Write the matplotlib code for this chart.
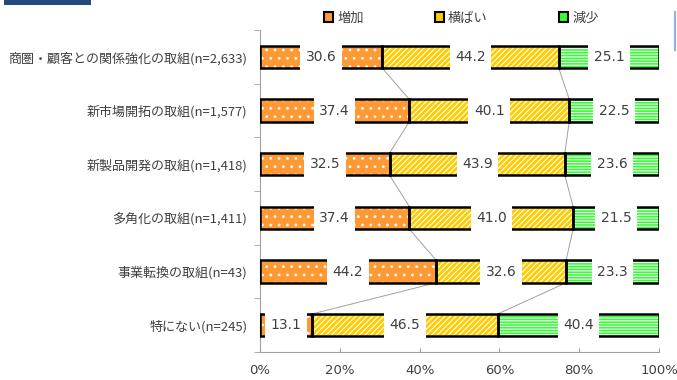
import matplotlib
matplotlib.use("Agg")
import matplotlib.pyplot as plt
from matplotlib.patches import Rectangle, Patch
from matplotlib.lines import Line2D
import numpy as np

plt.rcParams['font.family'] = ['Noto Sans CJK JP', 'DejaVu Sans']

categories = ["商圏・顧客との関係強化の取組(n=2,633)", "新市場開拓の取組(n=1,577)",
              "新製品開発の取組(n=1,418)", "多角化の取組(n=1,411)",
              "事業転換の取組(n=43)", "特にない(n=245)"]
series_names = ["増加", "横ばい", "減少"]
increase = [30.6, 37.4, 32.5, 37.4, 44.2, 13.1]
flat = [44.2, 40.1, 43.9, 41.0, 32.6, 46.5]
decrease = [25.1, 22.5, 23.6, 21.5, 23.3, 40.4]
xtick_labels = ["0%", "20%", "40%", "60%", "80%", "100%"]

colors = ["#FF9933", "#FFCC00", "#33FF33"]
hatches = ["..", "//////", "------"]

raw = np.array([increase, flat, decrease], dtype=float)
shares = raw / raw.sum(axis=0) * 100

fig = plt.figure(figsize=(6.77, 3.80), dpi=100)
ax = fig.add_axes([260/677, 1-352/380, 399/677, 322/380])

n = len(categories)
y = np.arange(n)
h = 0.42
textc = "#404040"

# series lines
cums = np.cumsum(shares, axis=0)
for k in range(3):
    for i in range(n - 1):
        ax.plot([cums[k, i], cums[k, i + 1]],
                [y[i] + h/2, y[i+1] - h/2], color="#A0A0A0", lw=0.7, zorder=1)

left = np.zeros(n)
plt.rcParams['hatch.linewidth'] = 0.8
for k in range(3):
    ax.barh(y, shares[k], left=left, height=h, color=colors[k], hatch=hatches[k],
            edgecolor="white", linewidth=0, zorder=2)
    ax.barh(y, shares[k], left=left, height=h, fill=False,
            edgecolor="black", linewidth=1.8, zorder=3)
    left += shares[k]

# label boxes
left = np.zeros(n)
bw = 10.4
for k in range(3):
    for i in range(n):
        cx = left[i] + shares[k, i] / 2
        ax.add_patch(Rectangle((cx - bw/2, y[i] - h/2 - 0.06), bw, h + 0.12,
                               facecolor="white", edgecolor="none", zorder=4))
        ax.text(cx, y[i], f"{raw[k, i]:.1f}", ha="center", va="center",
                fontsize=10, color=textc, zorder=5, family="DejaVu Sans")
    left += shares[k]

ax.set_xlim(0, 100)
ax.set_ylim(n - 0.5, -0.5)
ax.set_xticks(np.linspace(0, 100, 6))
ax.set_xticklabels(xtick_labels, fontsize=9.5, color=textc, family="DejaVu Sans")
ax.tick_params(axis="x", direction="in", length=3, color="#A0A0A0", pad=9)
ax.set_yticks(y)
ax.set_yticklabels(categories, fontsize=9.4, color=textc)
ax.tick_params(axis="y", which="major", length=0, pad=9)
ax.set_yticks(np.arange(-0.5, n, 1), minor=True)
ax.tick_params(axis="y", which="minor", direction="out", length=4, color="#A0A0A0")
for s in ["top", "right"]:
    ax.spines[s].set_visible(False)
for s in ["left", "bottom"]:
    ax.spines[s].set_color("#A0A0A0")
    ax.spines[s].set_linewidth(0.8)

handles = [Patch(facecolor=c, edgecolor="black", linewidth=1.5) for c in colors]
fig.legend(handles, series_names, loc="center left", bbox_to_anchor=(312/677, 1-18/380),
           ncol=3, frameon=False, fontsize=9.5, handlelength=0.7, handleheight=0.7,
           handletextpad=0.3, columnspacing=5.4, labelcolor=textc)

# decorations
fig.add_artist(Rectangle((4/677, 1-5/380), 87/677, 5/380, transform=fig.transFigure,
                         facecolor="#234A7D", edgecolor="none"))
fig.add_artist(Line2D([675/677, 675/677], [1-12/380, 1-50/380], transform=fig.transFigure,
                      color="#8EB4E3", lw=1.5))

fig.savefig("out.png", dpi=100)
